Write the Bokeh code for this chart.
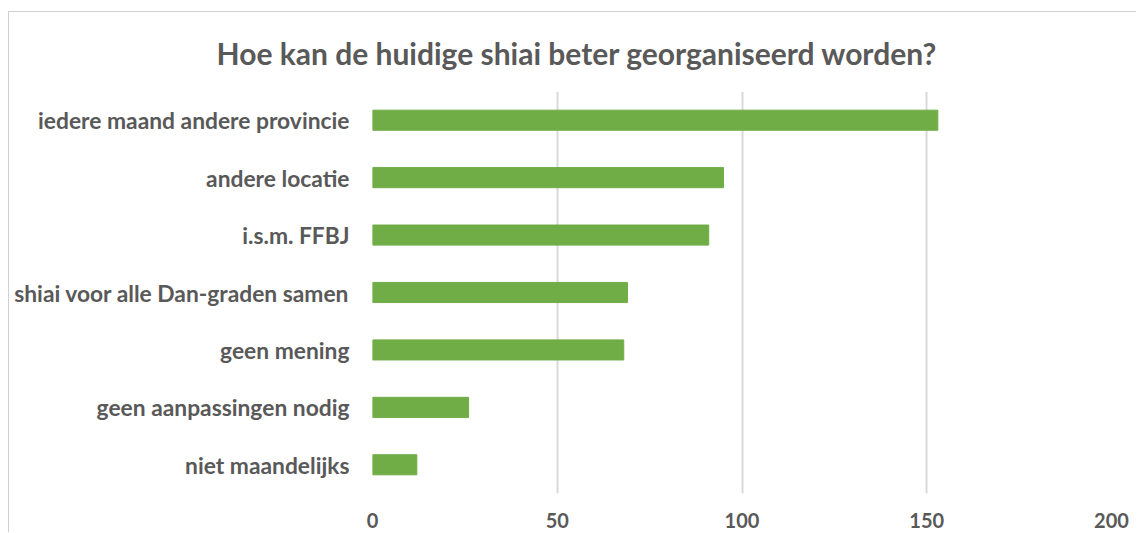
from bokeh.plotting import figure
from bokeh.models import FactorRange, Range1d, FixedTicker, Title
from bokeh.embed import file_html
from bokeh.resources import INLINE

categories = [
    "iedere maand andere provincie",
    "andere locatie",
    "i.s.m. FFBJ",
    "shiai voor alle Dan-graden samen",
    "geen mening",
    "geen aanpassingen nodig",
    "niet maandelijks",
]
values = [153, 95, 91, 69, 68, 26, 12]
x_ticks = [0, 50, 100, 150, 200]
title_text = "Hoe kan de huidige shiai beter georganiseerd worden?"

TEXT = "#595959"
GRID = "#d9d9d9"
BAR = "#70AD47"
FONT = "Lato"

factors = list(reversed(categories))

p = figure(
    width=1128, height=521,
    y_range=FactorRange(factors=factors, range_padding=0),
    x_range=Range1d(0, 200),
    output_backend="svg", toolbar_location=None,
    min_border_left=363, min_border_right=26,
    min_border_top=79, min_border_bottom=40,
)
p.margin = (11, 0, 0, 8)
p.styles = {"border-left": "1px solid #d0d0d0", "border-top": "1px solid #d0d0d0"}

p.hbar(y=categories, right=values, height=0.35, color=BAR, line_color=BAR)

# white (invisible) spacer between title and plot area
spacer = Title(text=".", text_font_size="8px", text_color="white", standoff=4)
p.add_layout(spacer, "above")

main_title = Title(
    text=title_text, text_font=FONT, text_font_size="30px",
    text_font_style="bold", text_color=TEXT, align="left",
    offset=-156, standoff=20,
)
p.add_layout(main_title, "above")

p.outline_line_color = None
p.ygrid.grid_line_color = None
p.xgrid.grid_line_color = GRID
p.xgrid.grid_line_width = 2
p.xaxis.ticker = FixedTicker(ticks=x_ticks)

for ax in (p.xaxis, p.yaxis):
    ax.axis_line_color = None
    ax.major_tick_line_color = None
    ax.minor_tick_line_color = None
    ax.major_label_text_font = FONT
    ax.major_label_text_font_style = "bold"
    ax.major_label_text_color = TEXT

p.yaxis.major_label_text_font_size = "22.8px"
p.yaxis.major_label_standoff = 17
p.xaxis.major_label_text_font_size = "20px"
p.xaxis.major_label_standoff = 13

open("out.html", "w").write(file_html(p, INLINE))
